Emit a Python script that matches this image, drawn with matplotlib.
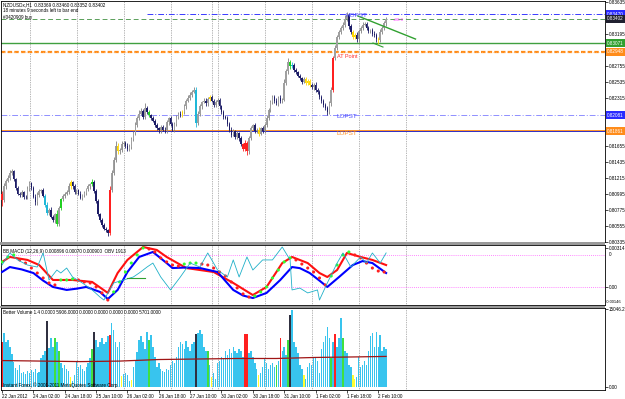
import matplotlib
matplotlib.use("Agg")
import matplotlib.pyplot as plt
import matplotlib.transforms as mtransforms
from matplotlib.patches import Rectangle

# ---------------- data ----------------
first_open = 0.8100
closes = [
    0.8091, 0.8110, 0.8118, 0.8122, 0.8128, 0.8131, 0.8120, 0.8108, 0.8100, 0.8098,
    0.8102, 0.8096, 0.8095, 0.8106, 0.8114, 0.8108, 0.8096, 0.8088, 0.8098, 0.8104,
    0.8105, 0.8097, 0.8085, 0.8073, 0.8078, 0.8068, 0.8064, 0.8072, 0.8058, 0.8080,
    0.8092, 0.8097, 0.8100, 0.8102, 0.8110, 0.8116, 0.8110, 0.8102, 0.8105, 0.8100,
    0.8094, 0.8098, 0.8101, 0.8106, 0.8110, 0.8113, 0.8116, 0.8104, 0.8090, 0.8072,
    0.8064, 0.8057, 0.8052, 0.8050, 0.8046, 0.8105, 0.8128, 0.8146, 0.8166, 0.8158,
    0.8160, 0.8168, 0.8170, 0.8166, 0.8162, 0.8164, 0.8175, 0.8183, 0.8194, 0.8204,
    0.8210, 0.8214, 0.8206, 0.8218, 0.8212, 0.8208, 0.8204, 0.8200, 0.8194, 0.8190,
    0.8187, 0.8192, 0.8188, 0.8187, 0.8198, 0.8204, 0.8196, 0.8188, 0.8196, 0.8205,
    0.8210, 0.8208, 0.8212, 0.8220, 0.8228, 0.8232, 0.8236, 0.8240, 0.8243, 0.8197,
    0.8210, 0.8220, 0.8226, 0.8228, 0.8224, 0.8230, 0.8233, 0.8228, 0.8222, 0.8226,
    0.8229, 0.8220, 0.8212, 0.8206, 0.8204, 0.8196, 0.8188, 0.8181, 0.8186, 0.8178,
    0.8183, 0.8176, 0.8168, 0.8162, 0.8170, 0.8158, 0.8176, 0.8190, 0.8194, 0.8186,
    0.8188, 0.8182, 0.8190, 0.8186, 0.8194, 0.8204, 0.8215, 0.8226, 0.8233, 0.8228,
    0.8224, 0.8232, 0.8228, 0.8229, 0.8252, 0.8268, 0.8281, 0.8276, 0.8277, 0.8270,
    0.8267, 0.8262, 0.8259, 0.8254, 0.8258, 0.8252, 0.8255, 0.8249, 0.8246, 0.8250,
    0.8243, 0.8240, 0.8233, 0.8228, 0.8222, 0.8218, 0.8212, 0.8224, 0.8243, 0.8286,
    0.8300, 0.8315, 0.8322, 0.8328, 0.8332, 0.8340, 0.8346, 0.8330, 0.8322, 0.8316,
    0.8318, 0.8312, 0.8324, 0.8328, 0.8332, 0.8333, 0.8328, 0.8324, 0.8325, 0.8320,
    0.8318, 0.8312, 0.8311, 0.8322, 0.8328, 0.8334, 0.8340,
]
upper_wick_pips = [
    3,4,2,3,5,3,2,2,3,2,3,2,2,4,3,2,2,3,4,3,
    2,3,2,3,2,4,3,2,6,3,2,3,2,3,4,3,2,3,2,2,
    3,2,3,2,3,2,4,3,2,2,2,3,2,2,2,5,4,4,6,3,
    3,4,3,2,3,4,3,3,4,3,5,4,3,6,2,3,2,3,2,3,
    2,3,2,4,3,2,3,2,3,3,2,3,3,3,2,3,4,3,4,4,
    3,3,2,3,4,3,2,3,2,3,2,3,2,3,2,3,2,3,3,2,
    3,2,3,2,4,3,3,3,2,3,2,3,2,3,3,4,3,3,3,2,
    3,2,3,2,5,4,5,3,4,2,3,2,3,2,3,2,3,2,3,2,
    3,2,3,2,2,3,2,3,4,3,4,3,3,3,4,5,4,3,3,3,
    3,4,3,3,4,3,3,3,2,3,3,3,3,4,3,3,3,
]
lower_wick_pips = [
    8,3,3,2,3,2,3,3,2,3,2,3,3,2,3,3,2,4,3,2,
    3,2,4,3,3,2,3,4,3,2,3,2,3,2,2,3,3,2,3,2,
    2,3,2,3,2,3,2,3,3,3,3,3,2,3,4,3,3,3,3,4,
    3,3,2,3,3,3,2,3,2,3,3,2,3,3,3,2,3,2,3,3,
    3,3,2,3,3,3,3,2,3,3,2,3,2,3,3,2,3,3,2,5,
    3,3,3,2,3,3,3,2,3,3,3,3,2,3,2,3,3,3,2,3,
    3,3,3,4,3,5,3,2,3,3,3,3,2,3,3,3,3,3,3,3,
    2,3,3,3,2,3,3,4,3,3,3,2,3,3,2,3,3,3,2,3,
    3,3,3,3,3,3,4,3,3,3,2,3,2,3,3,3,3,3,3,3,
    3,3,3,3,3,2,3,3,3,3,3,4,5,3,3,3,3,
]
candle_red = [0, 55, 123, 124, 125, 169]
candle_yellow = [35, 59, 92, 106, 131, 155, 156, 157, 179, 180, 192]
candle_green = [28, 30, 46, 75, 147]
candle_cyan = [22, 23, 99, 148]

volumes = [
    8600,10500,8600,9000,7800,6400,4900,3700,3300,4300,
    2700,2900,2500,3100,2700,3300,2900,3500,2700,2900,
    5500,6200,7000,12700,7600,9400,7800,9400,8600,7000,
    4700,3700,4300,3500,3100,1950,1200,2300,4900,3900,
    4300,3500,3100,3900,4700,5500,7400,10700,9000,7800,
    8600,9400,8200,8600,9750,10100,12300,10900,8600,7800,
    8600,2100,2500,2700,2300,1200,1400,3900,5100,6800,
    9000,9750,8600,7400,10700,9000,10100,7800,5850,3900,
    4700,3500,3100,2900,3500,3300,4300,5100,4700,5850,
    7800,8600,8200,7400,8800,7800,7000,8200,8600,10300,
    10500,10900,10300,7800,7000,7000,4300,1950,2700,1550,
    4700,5100,5850,5500,7000,6200,7400,6600,7800,7000,
    6600,7400,7000,5850,10300,10300,6600,7000,5850,4700,
    3500,2300,2700,3900,5500,4700,3500,4300,4700,3900,
    4300,5100,9400,7000,7800,6200,9000,13800,14800,8600,
    7800,6600,4300,3500,2300,1550,3900,4700,4300,5500,
    5850,5100,2700,7400,8600,9750,11500,9400,5500,8600,
    10300,7800,9400,13300,9400,7000,6600,4300,3900,2300,
    1550,1950,5850,3900,4300,5100,4300,7000,9750,10500,
    7800,10700,7800,10100,7000,7800,7400,
]
vol_black = [23, 47, 99, 147]
vol_red = [0, 55, 124, 125, 142, 170]
vol_green = [27, 29, 46, 75, 105, 140, 146, 168, 174]
vol_yellow = [35, 61, 66, 107, 131, 154, 179, 180]
vol_avg_x = [0, 20, 40, 60, 80, 100, 120, 140, 160, 180, 196]
vol_avg = [5100, 5000, 4900, 5000, 5300, 5400, 5500, 5500, 5700, 5800, 5900]

# MACD panel series, in units of 1e-5
macd_x = [0,4,10,16,21,26,33,38,43,50,54,59,64,70,77,84,87,94,101,110,118,123,128,135,142,148,152,157,162,166,172,179,184,189,196]
macd_v = [119,159,140,111,50,-1,-25,-15,-1,-41,-98,-25,119,240,280,191,151,155,151,119,-25,-70,-90,-49,55,159,150,111,50,-1,79,175,207,191,111]
signal_x = [0,4,13,19,26,36,46,54,59,64,72,79,84,94,108,118,128,135,143,148,156,162,166,171,176,183,189,196]
signal_v = [200,240,216,175,55,55,39,-49,111,216,320,296,240,151,119,31,-66,-1,191,240,191,111,79,135,272,240,216,175]
dots_x = list(range(0, 196, 3))
dots_v = [200,240,256,216,191,151,111,71,31,15,55,55,63,55,39,31,-1,-49,-106,-41,39,119,191,256,312,304,280,232,200,175,167,183,191,191,183,175,151,119,87,39,-9,-57,-82,-74,-41,-1,71,135,200,232,216,183,151,119,71,15,87,175,256,280,256,232,191,151,127,119]
obv_x = [0,4,8,13,18,21,24,28,30,33,36,41,46,50,52,57,62,67,70,74,77,81,86,91,96,101,105,110,115,118,121,125,128,133,138,143,147,148,152,156,161,162,166,171,174,178,183,186,189,193,196]
obv_v = [175,272,216,175,159,272,55,135,111,151,79,31,-25,-82,-106,31,55,79,111,159,191,79,-25,79,191,159,272,135,79,216,79,240,135,216,216,320,216,-25,-10,-49,-25,-106,31,191,272,159,240,191,272,191,272]
short_x = [64, 73]
short_v = [71, 71]
macd_levels = [0.0, 256]

# price levels
hopst = 0.83470
bid = 0.83402
green_level = 0.83071
orange_level = 0.82948
lopst = 0.82081
lopst2 = 0.81861
trend_x = [181.6, 211.0]
trend_y = [0.83443, 0.83126]
trend2_x = [189.3, 194.4]
trend2_y = [0.83071, 0.83016]

price_ticks = [0.80335, 0.80555, 0.80775, 0.80995, 0.81215, 0.81435, 0.81655,
               0.82315, 0.82535, 0.82755, 0.83195, 0.83635]
grid_bars = [14.3, 38.3, 62, 86, 107, 110.2, 134, 158, 182, 206]
date_bars = [0, 16, 32, 48, 64, 80, 96, 112, 128, 144, 160, 176, 192]
date_labels = ["22 Jan 2012", "24 Jan 02:00", "24 Jan 18:00", "25 Jan 10:00",
               "26 Jan 02:00", "26 Jan 18:00", "27 Jan 10:00", "30 Jan 02:00",
               "30 Jan 18:00", "31 Jan 10:00", "1 Feb 02:00", "1 Feb 18:00",
               "2 Feb 10:00"]

# ---------------- figure ----------------
plt.rcParams['font.family'] = ['Liberation Sans', 'DejaVu Sans']
W, H = 625, 399
fig = plt.figure(figsize=(W / 100, H / 100), dpi=100)
fig.patch.set_facecolor('white')


def ax_at(x0, y0, x1, y1):
    return fig.add_axes([x0 / W, 1 - y1 / H, (x1 - x0) / W, (y1 - y0) / H])


axp = ax_at(1, 1, 605, 242)
axm = ax_at(1, 245, 605, 305)
axv = ax_at(1, 308, 605, 390)
XL = (-0.51, 307.7)
FS = 3.3

for a in (axp, axm, axv):
    a.set_xlim(*XL)
    a.set_facecolor('white')
    for s in a.spines.values():
        s.set_color('black')
        s.set_linewidth(0.6)
    for g in grid_bars:
        a.axvline(g, color='#707070', ls=(0, (1, 1.5)), lw=0.5, zorder=0)
    a.tick_params(axis='y', left=False, right=True, labelleft=False, labelright=True,
                  labelsize=FS, length=2, pad=1, width=0.5)
    a.tick_params(axis='x', bottom=False, labelbottom=False)

# separators
for yy in (242, 305.5):
    fig.add_artist(Rectangle((0, 1 - (yy + 2.6) / H), 605 / W, 2.6 / H,
                             transform=fig.transFigure, fc='#9a9a9a', ec='none'))

# ---- price panel ----
n = len(closes)
idx = list(range(n))
opens = [first_open] + closes[:-1]
highs = [max(o, c) + u * 0.0001 for o, c, u in zip(opens, closes, upper_wick_pips)]
lows = [min(o, c) - l * 0.0001 for o, c, l in zip(opens, closes, lower_wick_pips)]
body_col = []
wick_col = []
for i, (o, c) in enumerate(zip(opens, closes)):
    if i in candle_red:
        col = '#ff2020'
    elif i in candle_yellow:
        col = '#ffd700'
    elif i in candle_green:
        col = '#20d020'
    elif i in candle_cyan:
        col = '#20b8d8'
    elif c >= o:
        col = '#a0a0a0'
    else:
        col = '#1c1c66'
    body_col.append(col)
    wick_col.append(col if col != '#a0a0a0' else '#808080')
bottoms = [min(o, c) for o, c in zip(opens, closes)]
heights = [max(abs(c - o), 0.00004) for o, c in zip(opens, closes)]
axp.vlines(idx, lows, highs, colors=wick_col, lw=0.6, zorder=3)
axp.bar(idx, heights, bottom=bottoms, width=0.75, color=body_col, linewidth=0, zorder=4)

axp.set_ylim(0.80335, 0.83649)
axp.set_yticks(price_ticks)
axp.set_yticklabels([f"{v:.5f}" for v in price_ticks])

axp.plot([74, XL[1]], [hopst, hopst], color='#3a3aff', lw=0.7, ls=(0, (6, 2, 1, 2)), zorder=2)
axp.axhline(bid, color='#5aa05a', lw=0.7, ls=(0, (5, 3)), zorder=2)
axp.axhline(green_level, color='#40a040', lw=1.0, zorder=2)
axp.axhline(orange_level, color='#ff8c1a', lw=1.6, ls=(0, (2, 1)), zorder=2)
axp.axhline(orange_level, color='#ffc080', lw=0.5, ls=(0, (1, 3)), zorder=2)
axp.axhline(lopst, color='#8f8fff', lw=0.7, ls=(0, (6, 2, 1, 2)), zorder=2)
axp.axhline(lopst2, color='#ff8c1a', lw=1.3, zorder=2)
axp.axhline(lopst2, color='#3030c8', lw=0.7, zorder=2)
axp.plot(trend_x, trend_y, color='#30a030', lw=1.0, zorder=5)
axp.plot(trend2_x, trend2_y, color='#30a030', lw=0.8, zorder=5)

axp.text(175.5, 0.83443, "HOPST", color='#5050ff', fontsize=4.6, va='center', ha='left', zorder=6)
axp.text(170.5, 0.82054, "LOPST", color='#4848ff', fontsize=4.6, va='center', ha='left', zorder=6)
axp.text(170.5, 0.81833, "LOPST", color='#ff8c1a', fontsize=4.6, va='center', ha='left', zorder=6)
axp.text(171.0, 0.82880, "AT Point", color='#ff3030', fontsize=4.0, va='center', ha='left', zorder=6)
axp.text(199.5, 0.83390, "+98.0", color='#ff40ff', fontsize=3.2, va='center', ha='left', zorder=6)

btr = mtransforms.blended_transform_factory(axp.transAxes, axp.transData)
for val, fc in [(hopst, '#2a2aff'), (bid, '#202030'), (green_level, '#30a030'),
                (orange_level, '#ff8c1a'), (lopst, '#2a2aff'), (lopst2, '#ff8c1a')]:
    axp.text(1.003, val, f"{val:.5f}", transform=btr, fontsize=FS, color='white',
             va='center', ha='left', clip_on=False,
             bbox=dict(boxstyle='square,pad=0.25', fc=fc, ec='none'))

fig.text(3 / W, 1 - 5 / H, "NZDUSDx,H1  0.83369 0.83460 0.83352 0.83402", fontsize=FS, va='center')
fig.text(3 / W, 1 - 11 / H, "18 minutes 9 seconds left to bar end", fontsize=FS, va='center')
fig.text(3 / W, 1 - 18 / H, "#0420909 buy", fontsize=FS, va='center')

# ---- MACD panel ----
sc = 1e-5
axm.set_ylim(-0.00146, 0.00336)
for lv in macd_levels:
    axm.axhline(lv * sc, color='#ff60ff', lw=0.6, ls=(0, (1, 1.5)), zorder=1)
axm.plot(signal_x, [v * sc for v in signal_v], color='#ff1010', lw=1.5, zorder=2)
axm.plot(macd_x, [v * sc for v in macd_v], color='#0000ff', lw=1.5, zorder=3)
dcol = ['#30ff30' if k == 0 or dots_v[k] >= dots_v[k - 1] else '#ff2020' for k in range(len(dots_v))]
axm.scatter(dots_x, [v * sc for v in dots_v], s=5, c=dcol, linewidths=0, zorder=4)
axm.plot(obv_x, [v * sc for v in obv_v], color='#20b0c8', lw=0.6, zorder=5)
axm.plot(short_x, [v * sc for v in short_v], color='#30a030', lw=0.8, zorder=5)
axm.set_yticks([0.00314, 0.0])
axm.set_yticklabels(["0.00314", "0.00"])
btm = mtransforms.blended_transform_factory(axm.transAxes, axm.transData)
axm.text(1.006, 256 * sc, "0", transform=btm, fontsize=FS, va='center', ha='left', clip_on=False)
axm.text(1.002, 0.02, "-0.00146", transform=axm.transAxes, fontsize=2.9, va='bottom',
         ha='left', clip_on=False)
axm.text(0.004, 0.93, "BB MACD (12,26,9) 0.000896 0.00070 0.000900  OBV 1913",
         transform=axm.transAxes, fontsize=FS, va='top', ha='left')

# ---- volume panel ----
vcol = []
for i in range(n):
    if i in vol_black:
        vcol.append('#303040')
    elif i in vol_red:
        vcol.append('#ff2020')
    elif i in vol_green:
        vcol.append('#40e040')
    elif i in vol_yellow:
        vcol.append('#ffff30')
    else:
        vcol.append('#38c4ee')
axv.bar(idx, volumes, width=0.75, color=vcol, linewidth=0, zorder=2)
axv.plot(vol_avg_x, vol_avg, color='#a01515', lw=0.9, zorder=3)
axv.set_ylim(-579, 15239)
axv.set_yticks([15046.2, 0])
axv.set_yticklabels(["15046.2", "0.00"])
axv.text(0.004, 0.97, "Better Volume 1.4 0.0000 5906.0000 0.0000 0.0000 0.0000 0.0000 5701.0000",
         transform=axv.transAxes, fontsize=FS, va='top', ha='left')
axv.text(0.004, 0.03, "Instant Forex, \u00a9 2001-2011 MetaQuotes Software Corp.",
         transform=axv.transAxes, fontsize=FS, va='bottom', ha='left', zorder=5)
axv.set_xticks(date_bars)
axv.set_xticklabels(date_labels)
axv.tick_params(axis='x', bottom=True, labelbottom=True, labelsize=FS, length=2, pad=0.8, width=0.5)
for lab in axv.get_xticklabels():
    lab.set_horizontalalignment('left')

fig.savefig("out.png", dpi=100)
